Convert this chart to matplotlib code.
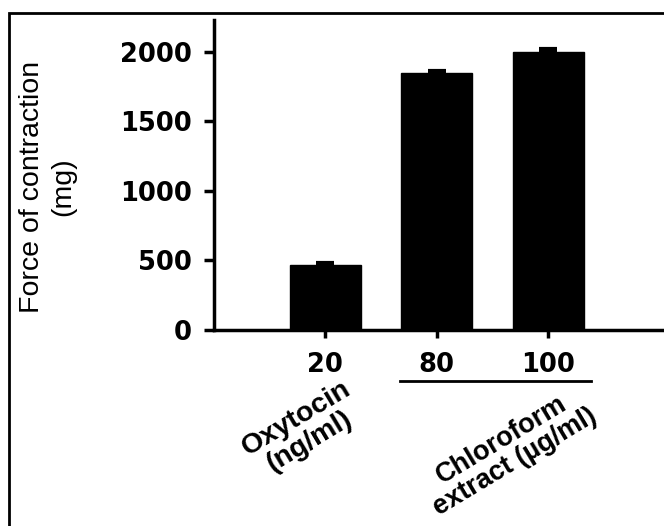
import matplotlib
matplotlib.use('Agg')
import matplotlib.pyplot as plt
from matplotlib.patches import Rectangle
from matplotlib.transforms import ScaledTranslation
import numpy as np

# data
doses = ['20', '80', '100']
force_mg = [470, 1845, 2003]
force_err = [12, 18, 20]
yticks = [0, 500, 1000, 1500, 2000]

fig = plt.figure(figsize=(6.64, 5.26), dpi=100)
ax = fig.add_axes([0.322, 0.373, 0.68, 0.589])

x = np.arange(1, len(doses) + 1)
ax.bar(x, force_mg, width=0.64, color='black', edgecolor='black')
ax.errorbar(x, force_mg, yerr=[np.zeros(len(x)), force_err], fmt='none',
            ecolor='black', elinewidth=2, capsize=6.5, capthick=3)

ax.set_xlim(0, 4.05)
ax.set_ylim(0, 2230)
ax.set_xticks(x)
ax.set_xticklabels(doses)
ax.set_yticks(yticks)

for s in ['top', 'right']:
    ax.spines[s].set_visible(False)
for s in ['left', 'bottom']:
    ax.spines[s].set_linewidth(2.5)

for lab in ax.get_xticklabels() + ax.get_yticklabels():
    lab.set_fontfamily('DejaVu Sans')
    lab.set_fontweight('bold')
    lab.set_fontsize(18.5)
ax.tick_params(axis='y', length=7, width=2.5, pad=9)
ax.tick_params(axis='x', length=6, width=2.5, pad=10)

# y label
fig.text(0.072, 0.645, 'Force of contraction\n(mg)', rotation=90,
         ha='center', va='center', multialignment='center',
         family='Liberation Sans', fontsize=20.5, linespacing=1.25)

# group line under the extract doses
ax.plot([1.67, 3.38], [-0.165, -0.165], color='black', lw=2,
        transform=ax.get_xaxis_transform(), clip_on=False)


def group_label(text, px, py, size):
    # place rotated label by its centre, given in pixels from top-left
    off = ScaledTranslation(px / 100, (526 - py) / 100, fig.dpi_scale_trans)
    fig.text(0, 0, text, rotation=31, ha='center', va='center',
             multialignment='center', family='Liberation Sans', weight='bold',
             fontsize=size, linespacing=1.0, transform=off)


group_label('Oxytocin\n(ng/ml)', 303, 430, 20.5)
group_label('Chloroform\nextract (\u00b5g/ml)', 508, 451, 19.5)

# outer frame
fig.add_artist(Rectangle((9 / 664, -0.1), 1.2, 1.1 - 13 / 526,
                         transform=fig.transFigure, fill=False,
                         edgecolor='black', lw=2))

fig.savefig('out.png', dpi=100)
